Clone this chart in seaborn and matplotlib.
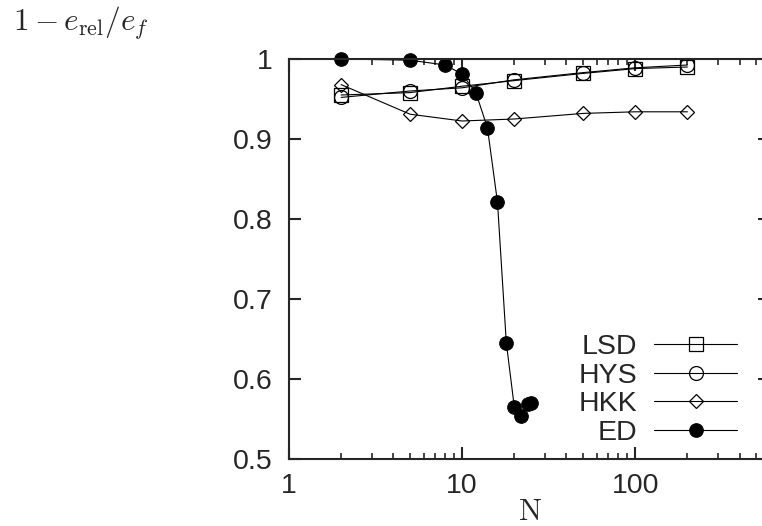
import numpy as np
import pandas as pd
import matplotlib
matplotlib.use('Agg')
import matplotlib.pyplot as plt
import seaborn as sns
from matplotlib.ticker import FixedLocator, FixedFormatter, LogLocator, NullFormatter

# values
n_var = [2, 5, 10, 20, 50, 100, 200]
lsd = [0.955, 0.958, 0.966, 0.973, 0.982, 0.988, 0.990]
hys = [0.952, 0.960, 0.964, 0.974, 0.983, 0.989, 0.9925]
hkk = [0.968, 0.931, 0.9225, 0.925, 0.932, 0.934, 0.934]

n_ed = [2, 5, 8, 10, 12, 14, 16, 18, 20, 22, 24, 25]
ed = [1.0, 0.9985, 0.9925, 0.981, 0.958, 0.914, 0.821, 0.645, 0.5655, 0.554, 0.569, 0.570]

y_ticks = [0.5, 0.6, 0.7, 0.8, 0.9, 1.0]
y_labels = ['0.5', '0.6', '0.7', '0.8', '0.9', '1']
x_ticks = [1, 10, 100]
x_labels = ['1', '10', '100']

sns.set_style('ticks')
plt.rcParams['font.family'] = ['Liberation Sans', 'DejaVu Sans']
plt.rcParams['mathtext.fontset'] = 'cm'

W, H = 762, 526
fig = plt.figure(figsize=(W / 100, H / 100), dpi=100)
x0, x1, ytop, ybot = 289, 770, 59, 459
ax = fig.add_axes([x0 / W, (H - ybot) / H, (x1 - x0) / W, (ybot - ytop) / H])

common = dict(color='black', linewidth=0.8, ax=ax, clip_on=False)
sns.lineplot(x=n_var, y=lsd, marker='s', markersize=9.5, markerfacecolor='none',
             markeredgecolor='black', markeredgewidth=0.9, label='LSD', **common)
sns.lineplot(x=n_var, y=hys, marker='o', markersize=10, markerfacecolor='none',
             markeredgecolor='black', markeredgewidth=0.9, label='HYS', **common)
sns.lineplot(x=n_var, y=hkk, marker='D', markersize=7.2, markerfacecolor='none',
             markeredgecolor='black', markeredgewidth=0.9, label='HKK', **common)
sns.lineplot(x=n_ed, y=ed, marker='o', markersize=9.8, markerfacecolor='black',
             markeredgecolor='black', label='ED', **common)

ax.set_xscale('log')
ax.set_xlim(1, 600)
ax.set_ylim(0.5, 1.0)
ax.xaxis.set_major_locator(FixedLocator(x_ticks))
ax.xaxis.set_major_formatter(FixedFormatter(x_labels))
ax.xaxis.set_minor_locator(LogLocator(base=10, subs=np.arange(2, 10)))
ax.xaxis.set_minor_formatter(NullFormatter())
ax.yaxis.set_major_locator(FixedLocator(y_ticks))
ax.yaxis.set_major_formatter(FixedFormatter(y_labels))

for s in ax.spines.values():
    s.set_linewidth(1.5)
ax.tick_params(which='major', direction='in', length=8.5, width=1.5,
               top=True, right=True, labelsize=20.5, pad=10)
ax.tick_params(which='minor', direction='in', length=4, width=1.2,
               top=True, right=True)
ax.tick_params(axis='y', pad=12)

ax.set_xlabel(r'$\mathrm{N}$', fontsize=22, labelpad=-1)
ax.set_ylabel('')
fig.text(13 / W, 1 - 23 / H, r'$1-e_{\mathrm{rel}}/e_f$', fontsize=22.5,
         ha='left', va='center')

ax.legend(loc='lower right', bbox_to_anchor=(0.931, 0.033), frameon=False,
          markerfirst=False, fontsize=20.5, handlelength=2.9, handletextpad=0.6,
          labelspacing=0.09, borderpad=0, borderaxespad=0)

fig.savefig('out.png', dpi=100)
